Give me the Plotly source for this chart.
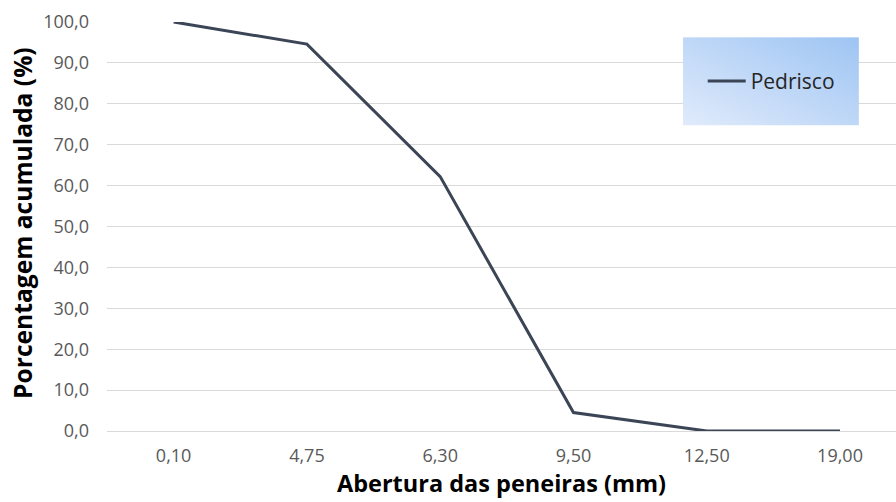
import base64
import plotly.graph_objects as go

categories = ["0,10", "4,75", "6,30", "9,50", "12,50", "19,00"]
pedrisco = [100.0, 94.6, 62.2, 4.5, 0.0, 0.0]
y_ticks = [0, 10, 20, 30, 40, 50, 60, 70, 80, 90, 100]
y_tick_labels = ["0,0", "10,0", "20,0", "30,0", "40,0", "50,0", "60,0", "70,0", "80,0", "90,0", "100,0"]

svg = ('<svg xmlns="http://www.w3.org/2000/svg" width="176" height="88">'
       '<defs><linearGradient id="g" x1="0" y1="1" x2="1" y2="0">'
       '<stop offset="0" stop-color="#e0ebfb"/><stop offset="1" stop-color="#9ec4f3"/>'
       '</linearGradient></defs><rect width="176" height="88" fill="url(#g)"/></svg>')
src = "data:image/svg+xml;base64," + base64.b64encode(svg.encode()).decode()

fig = go.Figure()
fig.add_trace(go.Scatter(
    x=list(range(len(categories))), y=pedrisco, mode="lines", name="Pedrisco",
    line=dict(color="#3b4556", width=3), cliponaxis=False,
))

font_family = "Open Sans, Noto Sans, sans-serif"
fig.update_layout(
    width=896, height=502,
    margin=dict(l=107, r=0, t=22, b=71),
    paper_bgcolor="white", plot_bgcolor="white",
    font=dict(family=font_family, color="#595959", size=18),
    showlegend=True,
    legend=dict(x=0.755, y=0.855, xanchor="left", yanchor="middle",
                bgcolor="rgba(0,0,0,0)", font=dict(size=21, color="#262626"),
                itemwidth=38),
    images=[dict(source=src, xref="paper", yref="paper", x=0.730, y=0.963,
                 sizex=0.223, sizey=0.216, xanchor="left", yanchor="top",
                 sizing="stretch", layer="above")],
    annotations=[dict(text="<b>Porcentagem acumulada (%)</b>", textangle=-90,
                      xref="paper", yref="paper", x=-0.1065, y=0.5086,
                      xanchor="center", yanchor="middle", showarrow=False,
                      font=dict(size=24.6, color="#000000"))],
    xaxis=dict(
        tickmode="array", tickvals=list(range(len(categories))), ticktext=categories,
        range=[-0.5, 5.42], showgrid=False, zeroline=False, showline=False,
        ticks="", ticklabelstandoff=12, tickfont=dict(size=18, color="#595959"),
        title=dict(text="<b>Abertura das peneiras (mm)</b>",
                   font=dict(size=23.5, color="#000000"), standoff=4),
    ),
    yaxis=dict(
        tickmode="array", tickvals=y_ticks, ticktext=y_tick_labels,
        range=[0, 100], showgrid=True, gridcolor="#d9d9d9", gridwidth=1,
        zeroline=True, zerolinecolor="#d9d9d9", zerolinewidth=1,
        showline=False, ticks="", ticklabelstandoff=17,
        tickfont=dict(size=18, color="#595959"),
    ),
)
fig.write_html("out.html", config={"displayModeBar": False},
               post_script="document.body.style.margin='0';")
